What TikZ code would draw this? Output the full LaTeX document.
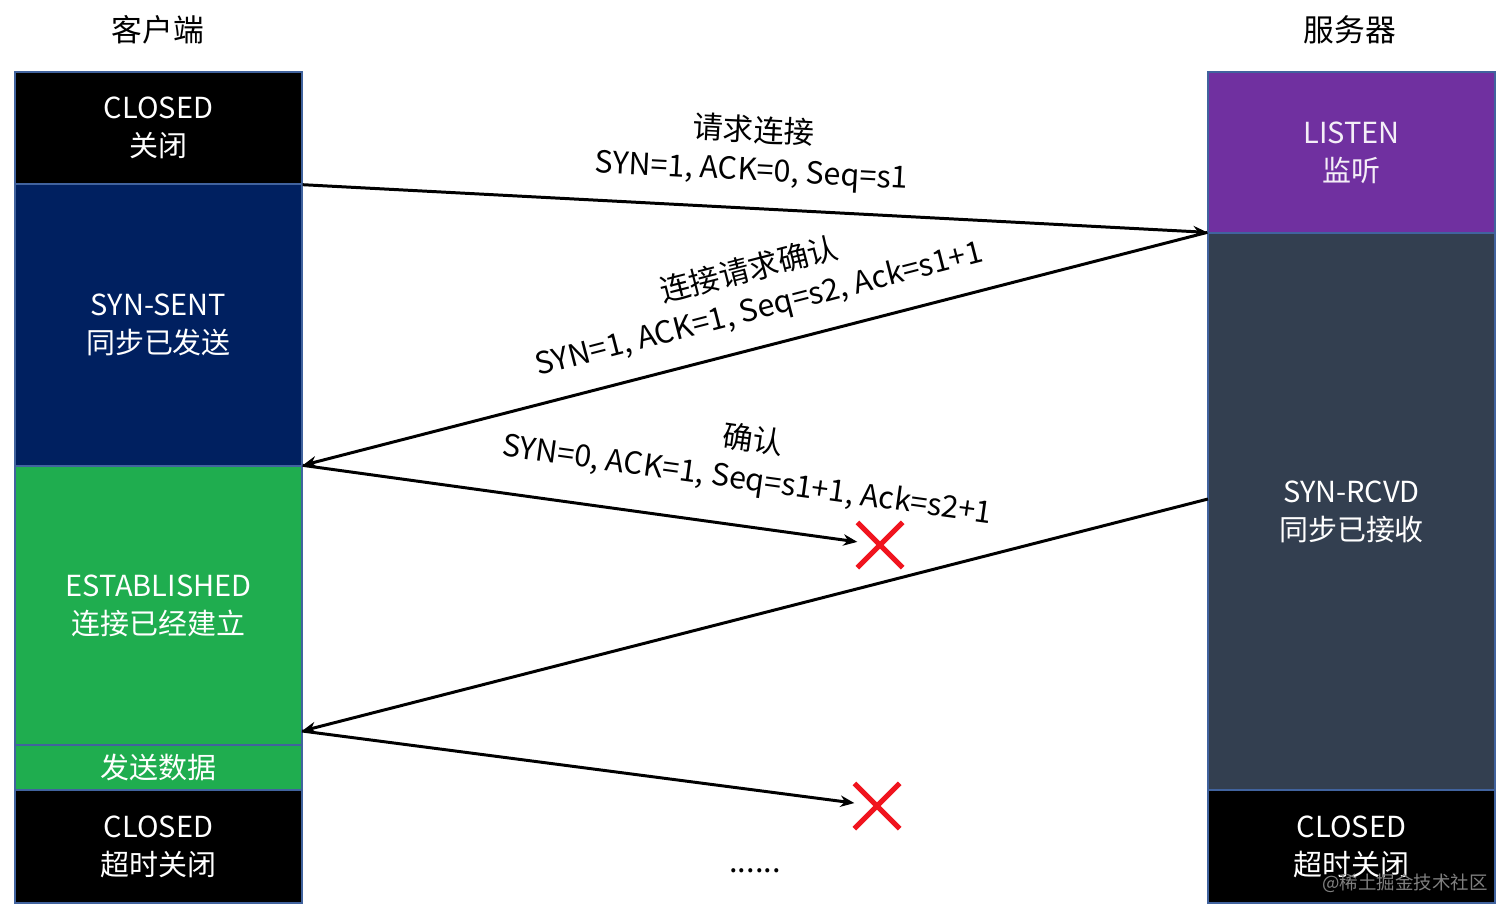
\documentclass[tikz,border=0pt]{standalone}
\usepackage{fontspec}
\setmainfont{Noto Sans CJK SC}
\usetikzlibrary{arrows.meta,shapes.misc}
\definecolor{edge}{HTML}{41639E}
\definecolor{navy}{HTML}{002060}
\definecolor{estgreen}{HTML}{1FAD4F}
\definecolor{listenpurple}{HTML}{7030A0}
\definecolor{slate}{HTML}{333F50}
\definecolor{xred}{HTML}{F0141E}
\begin{document}
\begin{tikzpicture}
	[	x=0.02cm,y=-0.02cm,
	state/.style={rectangle,draw=edge,line width=0.8pt,text=white,minimum width=5.74cm,inner sep=0pt,align=center,font=\fontsize{16.5}{21.5}\selectfont},
	plain/.style={draw=none,fill=none,font=\fontsize{17.5}{22}\selectfont},
	msg/.style={-{Stealth[length=8pt,width=6.5pt]},line width=1.7pt},
	back/.style={{Stealth[length=8pt,width=6.5pt]}-,line width=1.7pt},
	lbl/.style={sloped,above=9pt,inner sep=2pt,align=center,font=\fontsize{17.3}{22.5}\selectfont},
	lost/.style={cross out,draw=xred,line width=3pt,minimum size=0.8cm,inner sep=0pt}
	]
	\useasboundingbox (0,0) rectangle (1512,920);
	\node[plain] (client) at (158,30){客户端};
	\node[plain] (server) at (1350,30){服务器};

	\node[state,fill=black,minimum height=2.24cm] (cclosed) at (158.5,128){CLOSED\\关闭};
	\node[state,fill=navy,minimum height=5.64cm] (csent) at (158.5,325){SYN-SENT\\同步已发送};
	\node[state,fill=estgreen,minimum height=5.58cm] (cest) at (158.5,605.5){ESTABLISHED\\连接已经建立};
	\node[state,fill=estgreen,minimum height=0.9cm] (csend) at (158.5,767.5){发送数据};
	\node[state,fill=black,minimum height=2.26cm] (cend) at (158.5,846.5){CLOSED\\超时关闭};

	\node[state,fill=listenpurple,minimum height=3.22cm,text=white!92!listenpurple] (slisten) at (1351.5,152.5){LISTEN\\监听};
	\node[state,fill=slate,minimum height=11.14cm] (srcvd) at (1351.5,511.5){SYN-RCVD\\同步已接收};
	\node[state,fill=black,minimum height=2.26cm] (send) at (1351.5,846.5){CLOSED\\超时关闭};

	\node[lost] (x1) at (880,545){};
	\node[lost] (x2) at (877,806){};
	\coordinate (rcvdout) at (1208,499);
	\coordinate (estin) at (302,731);

	\draw[msg] (cclosed.south east) -- node[lbl,pos=0.494]{请求连接\\SYN=1, ACK=0, Seq=s1} (srcvd.north west);
	\draw[back] (cest.north east) -- node[lbl,pos=0.515]{连接请求确认\\SYN=1, ACK=1, Seq=s2, Ack=s1+1} (srcvd.north west);
	\draw[msg] (cest.north east) -- node[lbl,pos=0.79,yshift=5pt]{确认\\SYN=0, ACK=1, Seq=s1+1, Ack=s2+1} (x1);
	\draw[back] (estin) -- (rcvdout);
	\draw[msg] (estin) -- (x2);

	\node[plain] (more) at (755,871){......};
	\node[font=\fontsize{10.5}{12}\selectfont,text=gray] (mark) at (1405,883){@稀土掘金技术社区};
\end{tikzpicture}
\end{document}
